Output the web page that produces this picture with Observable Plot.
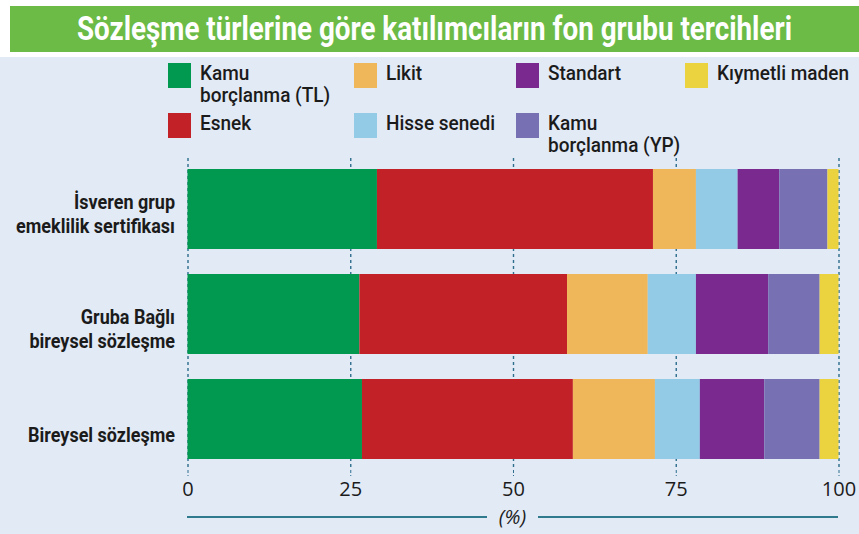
<!DOCTYPE html>
<html>
<head>
<meta charset="utf-8">
<script src="https://cdn.jsdelivr.net/npm/d3@7"></script>
<script src="https://cdn.jsdelivr.net/npm/@observablehq/plot@0.6"></script>
<style>
  html, body { margin: 0; padding: 0; }
  body { width: 859px; height: 534px; background: #e2eaf6; position: relative; overflow: hidden;
         font-family: "Roboto", sans-serif; }
  #topwhite { position: absolute; left: 0; top: 0; width: 859px; height: 57px; background: #ffffff; }
  #banner { position: absolute; left: 10px; top: 6px; width: 849px; height: 46px; background: #6bbb46;
            display: flex; align-items: center; justify-content: center; overflow: hidden; }
  #banner span { display: inline-block; white-space: nowrap; color: #fff; font-weight: 700; font-size: 33px;
                 transform-origin: center center; margin-top: -2px; }
  .leg { position: absolute; display: flex; align-items: flex-start; }
  .leg .tx { font-size: 20px; font-weight: 500; color: #1b1b1b; line-height: 22px; white-space: pre;
             transform-origin: left top; margin-top: -1px; }
  .sw { width: 23px; height: 25px; margin-right: 9px; flex: none; }
  #chart { position: absolute; left: 0; top: 146px; }
  #xlabel { position: absolute; left: 187px; top: 503px; width: 651px; display: flex; align-items: center; }
  #xlabel .ln { flex: 1; height: 2px; background: #2f7a8c; }
  #xlabel .tx { font-style: italic; font-size: 20px; color: #1b1b1b; padding: 0 12px; font-family: "Open Sans", "DejaVu Sans", sans-serif; }
</style>
</head>
<body>
<div id="topwhite"></div>
<div id="banner"><span id="title"></span></div>
<div id="legend"></div>
<div id="chart"></div>
<div id="xlabel"><div class="ln"></div><div class="tx">(%)</div><div class="ln"></div></div>
<script>
const title = "Sözleşme türlerine göre katılımcıların fon grubu tercihleri";
const categories = ["İsveren grup\nemeklilik sertifikası", "Gruba Bağlı\nbireysel sözleşme", "Bireysel sözleşme"];
const series = ["Kamu borçlanma (TL)", "Esnek", "Likit", "Hisse senedi", "Standart", "Kamu borçlanma (YP)", "Kıymetli maden"];
const legendLabels = ["Kamu\nborçlanma (TL)", "Esnek", "Likit", "Hisse senedi", "Standart", "Kamu\nborçlanma (YP)", "Kıymetli maden"];
const colors = ["#00994f", "#c32128", "#efb65a", "#93cbe6", "#7a2a8f", "#7771b3", "#ebd33f"];
const kamuTL   = [29.1, 26.4, 26.8];
const esnek    = [42.4, 31.9, 32.4];
const likit    = [6.6, 12.4, 12.6];
const hisse    = [6.4, 7.4, 6.9];
const standart = [6.4, 11.1, 9.9];
const kamuYP   = [7.4, 7.9, 8.5];
const kiymetli = [1.7, 2.9, 2.9];
const xTicks = [0, 25, 50, 75, 100];

const seriesValues = [kamuTL, esnek, likit, hisse, standart, kamuYP, kiymetli];
const data = [];
series.forEach((s, i) => categories.forEach((c, j) => data.push({series: s, category: c, value: seriesValues[i][j]})));

// text width measurement to emulate the condensed typeface
const ctx = document.createElement("canvas").getContext("2d");
function measure(text, font) { ctx.font = font; return ctx.measureText(text).width; }

// title
const titleEl = document.getElementById("title");
titleEl.textContent = title;
const titleScale = 715 / measure(title, "700 33px Roboto");
titleEl.style.transform = `scaleX(${titleScale})`;

// legend (4 columns x 2 rows, column-major)
const legScale = 132 / measure("Kıymetli maden", "500 20px Roboto");
const colX = [168, 354, 516, 685];
const rowY = [63, 113];
const legend = document.getElementById("legend");
legendLabels.forEach((lab, i) => {
  const col = Math.floor(i / 2), row = i % 2;
  const el = document.createElement("div");
  el.className = "leg";
  el.style.left = colX[col] + "px";
  el.style.top = rowY[row] + "px";
  const sw = document.createElement("div");
  sw.className = "sw";
  sw.style.background = colors[i];
  const tx = document.createElement("div");
  tx.className = "tx";
  tx.textContent = lab;
  tx.style.transform = `scaleX(${legScale})`;
  el.appendChild(sw); el.appendChild(tx);
  legend.appendChild(el);
});

const yScale = 159 / measure("emeklilik sertifikası", "700 21px Roboto");
const yLabelNudge = [4, 14, 15];

const chart = Plot.plot({
  width: 859,
  height: 388,
  marginLeft: 187.5,
  marginRight: 20.5,
  marginTop: 12,
  marginBottom: 64,
  style: {background: "transparent", fontFamily: "Roboto, sans-serif"},
  x: {domain: [0, 100], ticks: xTicks},
  y: {domain: categories, paddingInner: 0.24, paddingOuter: 0.105},
  color: {domain: series, range: colors},
  marks: [
    Plot.ruleX(xTicks, {stroke: "#2d6e8c", strokeWidth: 1.4, strokeDasharray: "3,3"}),
    Plot.barX(data, Plot.stackX({x: "value", y: "category", fill: "series", order: series})),
    Plot.axisX({ticks: xTicks, tickSize: 6, tickPadding: 5, stroke: "#2d6e8c", strokeDasharray: "3,2",
                fontSize: 20, fill: "#1b1b1b", label: null,
                fontFamily: "'Open Sans', 'DejaVu Sans', sans-serif"}),
    ...categories.map((c, i) => Plot.axisY({ticks: [c], tickSize: 0, tickPadding: 13, fontSize: 21,
                fontWeight: "bold", fill: "#1b1b1b", label: null, lineHeight: 1.14, dy: yLabelNudge[i]}))
  ]
});
chart.querySelectorAll("[aria-label='y-axis tick label'] text").forEach(t => {
  const tr = t.getAttribute("transform") || "";
  t.setAttribute("transform", `${tr} scale(${yScale},1)`);
});
document.getElementById("chart").appendChild(chart);
</script>
</body>
</html>
